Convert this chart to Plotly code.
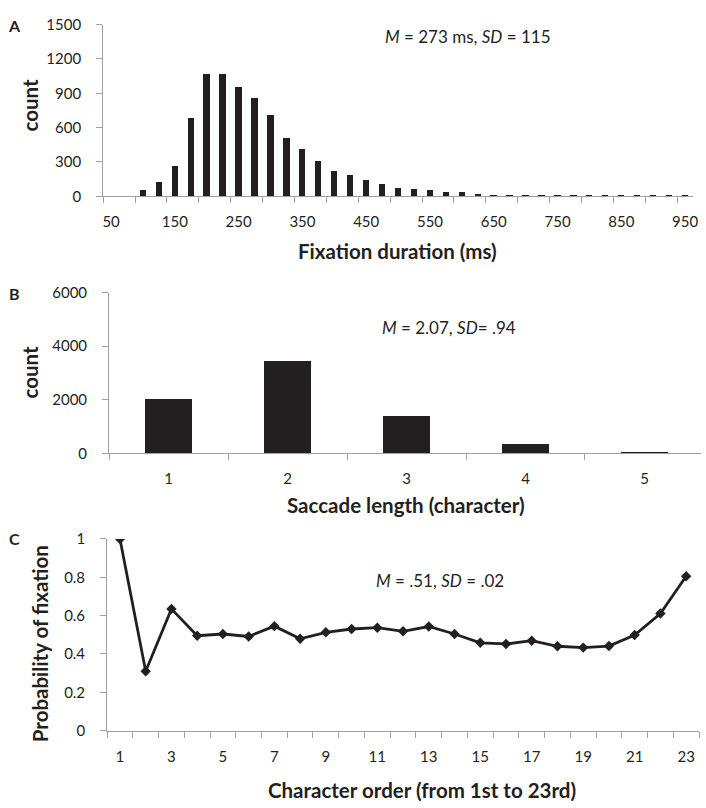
import plotly.graph_objects as go

# ---- Panel A: fixation duration histogram ----
dur_bins = [50, 75, 100, 125, 150, 175, 200, 225, 250, 275, 300, 325, 350, 375, 400,
            425, 450, 475, 500, 525, 550, 575, 600, 625, 650, 675, 700, 725, 750, 775,
            800, 825, 850, 875, 900, 925, 950]
dur_counts = [0, 0, 60, 125, 270, 685, 1075, 1075, 960, 865, 710, 510, 415, 315, 225,
              185, 145, 110, 78, 68, 55, 42, 37, 26, 15, 18, 13, 11, 10, 9,
              9, 8, 8, 8, 8, 8, 8]
dur_ticks = [50, 150, 250, 350, 450, 550, 650, 750, 850, 950]
dur_yticks = [0, 300, 600, 900, 1200, 1500]

# ---- Panel B: saccade length ----
sac_len = [1, 2, 3, 4, 5]
sac_counts = [2040, 3480, 1410, 380, 65]
sac_yticks = [0, 2000, 4000, 6000]

# ---- Panel C: probability of fixation ----
char_order = list(range(1, 24))
fix_prob = [1.0, 0.31, 0.635, 0.495, 0.504, 0.491, 0.545, 0.479, 0.513, 0.530,
            0.537, 0.518, 0.543, 0.504, 0.458, 0.452, 0.469, 0.440, 0.433, 0.441,
            0.499, 0.611, 0.805]
char_ticks = list(range(1, 24, 2))
prob_yticks = [0, 0.2, 0.4, 0.6, 0.8, 1]

W, H = 706, 808
FONT = "Lato, 'Open Sans', sans-serif"
INK = "#231f20"
AX = "#a0a0a0"

def px(x):
    return x / W

def py(y):
    return 1 - y / H

fig = go.Figure()
fig.add_trace(go.Bar(x=dur_bins, y=dur_counts, width=10, marker=dict(color=INK, line=dict(width=0)),
                     xaxis="x", yaxis="y", showlegend=False))
fig.add_trace(go.Bar(x=sac_len, y=sac_counts, width=0.4, marker=dict(color=INK, line=dict(width=0)),
                     xaxis="x2", yaxis="y2", showlegend=False))
fig.add_trace(go.Scatter(x=char_order, y=fix_prob, mode="lines+markers",
                         line=dict(color=INK, width=2.8),
                         marker=dict(symbol="diamond", size=8, color=INK),
                         xaxis="x3", yaxis="y3", showlegend=False))

tickfont = dict(family=FONT, size=15, color=INK)

def xax(rng, domain, anchor, tickvals, tick0, dtick):
    return dict(range=rng, domain=domain, anchor=anchor, tickvals=tickvals,
                ticktext=[str(v) for v in tickvals], ticks="outside", ticklen=0,
                showline=True, linecolor=AX, linewidth=1, showgrid=False, zeroline=False,
                tickfont=tickfont, ticklabelstandoff=12,
                minor=dict(ticks="outside", ticklen=6, tickcolor=AX, tickwidth=1,
                           tick0=tick0, dtick=dtick, showgrid=False))

def yax(rng, domain, anchor, tickvals, ticktext):
    return dict(range=rng, domain=domain, anchor=anchor, tickvals=tickvals, ticktext=ticktext,
                ticks="outside", ticklen=6, tickcolor=AX, tickwidth=1,
                showline=True, linecolor=AX, linewidth=1, showgrid=False, zeroline=False,
                tickfont=tickfont, ticklabelstandoff=12)

fig.update_layout(
    width=W, height=H, margin=dict(l=0, r=0, t=0, b=0),
    paper_bgcolor="white", plot_bgcolor="white",
    font=dict(family=FONT, color=INK),
    bargap=0, hovermode=False,
    xaxis=xax([37.5, 962.5], [px(103), px(698)], "y", dur_ticks, 37.5, 50),
    yaxis=yax([0, 1500], [py(190.5), py(15)], "x", dur_yticks, [str(v) for v in dur_yticks]),
    xaxis2=xax([0.5, 5.475], [px(109), 1.0], "y2", sac_len, 0.5, 1),
    yaxis2=yax([0, 6000], [py(453.5), py(289)], "x2", sac_yticks, [str(v) for v in sac_yticks]),
    xaxis3=xax([0.5, 23.5], [px(107), px(704)], "y3", char_ticks, 0.5, 1),
    yaxis3=yax([0, 1], [py(737), py(541)], "x3", prob_yticks, ["0", "0.2", "0.4", "0.6", "0.8", "1"]),
)

ann = []
def text(x, y, s, size, bold=False, angle=0, xanchor="center"):
    ann.append(dict(x=px(x), y=py(y), xref="paper", yref="paper", text=s, showarrow=False,
                    xanchor=xanchor, yanchor="middle", textangle=angle,
                    font=dict(family=FONT, size=size, color=INK,
                              weight="bold" if bold else "normal")))

# panel letters
text(14, 16, "A", 16, bold=True)
text(14, 290, "B", 16, bold=True)
text(14, 541, "C", 16, bold=True)
# axis titles
text(400, 246, "Fixation duration (ms)", 20.5, bold=True)
text(29, 98, "count", 20.5, bold=True, angle=-90)
text(408, 506, "Saccade length (character)", 20.5, bold=True)
text(29, 371, "count", 20.5, bold=True, angle=-90)
text(425, 798, "Character order (from 1st to 23rd)", 20.5, bold=True)
text(39, 648, "Probability of fixation", 20.5, bold=True, angle=-90)
# stats
text(471, 27, "<i>M</i> = 273 ms, <i>SD</i> = 115", 17)
text(452, 325, "<i>M</i> = 2.07, <i>SD</i>= .94", 17)
text(443, 583, "<i>M</i> = .51, <i>SD</i> = .02", 17)
fig.update_layout(annotations=ann)

fig.write_html("out.html", config={"displayModeBar": False},
               post_script="document.body.style.margin='0';document.body.style.overflow='hidden';")
